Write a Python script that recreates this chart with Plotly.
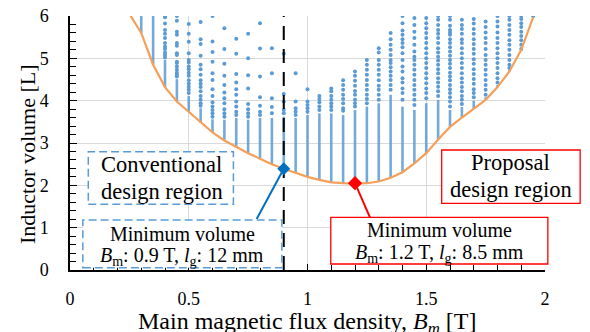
import plotly.graph_objects as go

# ---------------- data ----------------
cols = [0.3, 0.35, 0.4, 0.45, 0.5, 0.55, 0.6, 0.65, 0.7, 0.75, 0.8, 0.85, 0.9, 0.95,
        1.0, 1.05, 1.1, 1.15, 1.2, 1.25, 1.3, 1.35, 1.4, 1.45, 1.5, 1.55, 1.6, 1.65,
        1.7, 1.75, 1.8, 1.85, 1.9, 1.95]

# dense (quasi-continuous) part of each column of design points
dense_lo = [5.6, 4.85, 4.32, 3.98, 3.74, 3.48, 3.25, 3.06, 2.9, 2.76, 2.63, 2.5, 2.39, 2.29,
            2.2, 2.13, 2.07, 2.05, 2.04, 2.05, 2.09, 2.18, 2.31, 2.52, 2.76, 3.08, 3.38, 3.6,
            3.8, 4.02, 4.32, 4.69, 5.2, 5.97]
dense_hi = [6.0, 6.0, 4.96, 4.51, 4.11, 3.82, 3.56, 3.55, 3.59, 3.55, 3.59, 3.59, 3.62, 3.59,
            3.66, 3.7, 3.7, 3.66, 3.78, 3.86, 3.94, 4.14, 3.86, 3.78, 3.94, 4.02, 3.78, 3.85,
            4.0, 4.08, 4.37, 4.73, 5.2, 6.0]

# individual (sparse) design points above the dense part, one list per column
sparse_vals = [
    [],
    [],
    [5.97, 5.82, 5.67, 5.58, 5.48, 5.36, 5.28, 5.22, 5.14, 5.08, 5.02],
    [6.0, 5.89, 5.63, 5.56, 5.36, 5.3, 5.12, 5.08, 4.92, 4.89, 4.81, 4.73, 4.66, 4.61, 4.57],
    [5.81, 5.58, 5.39, 5.12, 4.96, 4.9, 4.81, 4.74, 4.66, 4.59, 4.48, 4.4, 4.33, 4.26, 4.18],
    [5.86, 5.45, 5.34, 5.06, 4.85, 4.74, 4.61, 4.48, 4.4, 4.32, 4.22, 4.11, 4.02, 3.94, 3.88],
    [6.0, 5.4, 5.15, 4.92, 4.65, 4.49, 4.27, 4.11, 3.96, 3.86, 3.78, 3.7, 3.62],
    [5.71, 5.22, 4.87, 4.59, 4.37, 4.19, 4.06, 3.94, 3.8, 3.7, 3.62],
    [5.46, 5.11, 4.63, 4.43, 4.27, 4.14, 3.98, 3.86, 3.74, 3.66],
    [5.58, 5.0, 4.6, 4.29, 3.92, 3.8, 3.7, 3.62],
    [5.83, 5.23, 4.57, 4.08, 3.88, 3.74, 3.66],
    [5.24, 4.65, 4.06, 3.85, 3.7],
    [5.11, 4.16, 3.98, 3.78, 3.7],
    [4.65, 3.98, 3.82, 3.74, 3.66],
    [4.27, 3.98, 3.9, 3.82, 3.74],
    [4.11, 4.04, 3.96, 3.86, 3.78],
    [4.29, 4.22, 4.11, 4.02, 3.94, 3.86, 3.78],
    [4.48, 4.37, 4.26, 4.14, 4.04, 3.94, 3.82, 3.76],
    [4.69, 4.59, 4.47, 4.35, 4.23, 4.14, 4.02, 3.94, 3.86],
    [4.96, 4.85, 4.73, 4.61, 4.49, 4.37, 4.26, 4.14, 4.04, 3.94],
    [5.24, 5.14, 4.96, 4.85, 4.73, 4.61, 4.48, 4.35, 4.26, 4.14, 4.02],
    [5.6, 5.45, 5.32, 5.2, 5.08, 4.96, 4.89, 4.79, 4.69, 4.59, 4.49, 4.37, 4.26],
    [6.0, 5.83, 5.66, 5.56, 5.45, 5.36, 5.26, 5.12, 4.96, 4.81, 4.69, 4.53, 4.43, 4.29, 4.18, 4.02],
    [5.95, 5.79, 5.63, 5.48, 5.32, 5.16, 5.04, 4.96, 4.85, 4.73, 4.61, 4.49, 4.37, 4.26, 4.14, 4.02, 3.9],
    [5.95, 5.83, 5.71, 5.6, 5.48, 5.36, 5.24, 5.12, 5.0, 4.89, 4.77, 4.65, 4.53, 4.41, 4.29, 4.18, 4.06],
    [6.0, 5.91, 5.79, 5.67, 5.58, 5.48, 5.36, 5.24, 5.14, 5.04, 4.95, 4.85, 4.74, 4.65, 4.53, 4.43, 4.33, 4.22, 4.11],
    [6.0, 5.91, 5.77, 5.67, 5.61, 5.56, 5.45, 5.36, 5.26, 5.16, 5.06, 4.96, 4.87, 4.77, 4.66, 4.57, 4.48, 4.37, 4.27, 4.18, 4.08, 3.98, 3.86],
    [5.91, 5.79, 5.69, 5.58, 5.45, 5.36, 5.24, 5.12, 5.0, 4.89, 4.77, 4.65, 4.53, 4.43, 4.32, 4.22, 4.11, 4.02, 3.92],
    [5.93, 5.82, 5.69, 5.58, 5.45, 5.34, 5.22, 5.11, 4.98, 4.87, 4.74, 4.63, 4.51, 4.4, 4.27, 4.18, 4.08],
    [5.87, 5.74, 5.61, 5.48, 5.36, 5.22, 5.08, 4.96, 4.85, 4.73, 4.61, 4.49, 4.37, 4.26, 4.14],
    [6.0, 5.87, 5.75, 5.61, 5.48, 5.36, 5.24, 5.12, 5.0, 4.89, 4.77, 4.65, 4.53, 4.43],
    [6.0, 5.91, 5.79, 5.67, 5.56, 5.43, 5.32, 5.2, 5.08, 4.96, 4.85, 4.77],
    [6.0, 5.93, 5.83, 5.74, 5.63, 5.53, 5.43, 5.32, 5.22],
    [6.0],
]

# minimum-volume envelope
env_x = [0.25, 0.3, 0.35, 0.4, 0.45, 0.5, 0.55, 0.6, 0.65, 0.7, 0.75, 0.8, 0.85, 0.9, 0.95,
         1.0, 1.05, 1.1, 1.15, 1.2, 1.25, 1.3, 1.35, 1.4, 1.45, 1.5, 1.55, 1.6, 1.65,
         1.7, 1.75, 1.8, 1.85, 1.9, 1.95]
env_y = [6.05, 5.6, 4.85, 4.32, 3.98, 3.74, 3.48, 3.25, 3.06, 2.9, 2.76, 2.63, 2.5, 2.39, 2.29,
         2.2, 2.13, 2.07, 2.05, 2.04, 2.05, 2.09, 2.18, 2.31, 2.52, 2.76, 3.08, 3.38, 3.6,
         3.8, 4.02, 4.32, 4.69, 5.2, 5.97]

conv_min = (0.9, 2.39)   # conventional design minimum
prop_min = (1.2, 2.05)   # proposal design minimum
conv_limit_x = 0.9

x_ticks = [0, 0.5, 1, 1.5, 2]
x_tick_text = ["0", "0.5", "1", "1.5", "2"]
y_ticks = [0, 1, 2, 3, 4, 5, 6]

# ---------------- figure ----------------
FONT = "Liberation Serif, Times New Roman, serif"
DOT = "#5B9BD5"

seg_x, seg_y = [], []
for c, lo, hi in zip(cols, dense_lo, dense_hi):
    seg_x += [c, c, None]
    seg_y += [lo, hi, None]

dot_x, dot_y = [], []
for c, vals in zip(cols, sparse_vals):
    for v in vals:
        dot_x.append(c)
        dot_y.append(v)

fig = go.Figure()
fig.add_trace(go.Scatter(x=seg_x, y=seg_y, mode="lines",
                         line=dict(color="rgba(91,155,213,0.85)", width=2.6), hoverinfo="skip"))
fig.add_trace(go.Scatter(x=dot_x, y=dot_y, mode="markers",
                         marker=dict(color=DOT, size=4, line=dict(width=0))))
fig.add_trace(go.Scatter(x=env_x, y=env_y, mode="lines",
                         line=dict(color="#F4A05A", width=2.2)))
fig.add_trace(go.Scatter(x=[conv_limit_x, conv_limit_x], y=[0, 6], mode="lines",
                         line=dict(color="black", width=2, dash="14px,9px")))
fig.add_trace(go.Scatter(x=[conv_min[0]], y=[conv_min[1]], mode="markers",
                         marker=dict(symbol="diamond", color="#0070C0", size=10)))
fig.add_trace(go.Scatter(x=[prop_min[0]], y=[prop_min[1]], mode="markers",
                         marker=dict(symbol="diamond", color="#FF0000", size=11)))

shapes = [
    # pointer lines
    dict(type="line", xref="x", yref="y", x0=0.786, y0=1.205, x1=conv_min[0], y1=conv_min[1],
         line=dict(color="#0070C0", width=2), layer="above"),
    dict(type="line", xref="x", yref="y", x0=1.263, y0=1.245, x1=prop_min[0], y1=prop_min[1],
         line=dict(color="#FF0000", width=2), layer="above"),
    # boxes
    dict(type="rect", xref="paper", yref="paper", x0=0.0385, x1=0.344, y0=0.259, y1=0.466,
         line=dict(color=DOT, width=1.5, dash="8px,4px"), fillcolor="white", layer="above"),
    dict(type="rect", xref="paper", yref="paper", x0=0.027, x1=0.446, y0=0.009, y1=0.197,
         line=dict(color=DOT, width=1.5, dash="8px,4px"), fillcolor="white", layer="above"),
    dict(type="rect", xref="paper", yref="paper", x0=0.7825, x1=1.074, y0=0.2626, y1=0.4724,
         line=dict(color="#FF0000", width=1.3), fillcolor="white", layer="above"),
    dict(type="rect", xref="paper", yref="paper", x0=0.549, x1=1.006, y0=0.0236, y1=0.2075,
         line=dict(color="#FF0000", width=1.3), fillcolor="white", layer="above"),
]

ann = dict(showarrow=False, xanchor="center", yanchor="middle", align="center",
           xref="paper", yref="paper")
BIG = dict(family=FONT, size=22.5, color="black")
MID = dict(family=FONT, size=20, color="black")
annotations = [
    dict(ann, x=0.1933, y=0.4134, text="Conventional", font=BIG),
    dict(ann, x=0.1933, y=0.311, text="design region", font=BIG),
    dict(ann, x=0.2358, y=0.1417, text="Minimum volume", font=MID),
    dict(ann, x=0.2358, y=0.0512,
         text="<i>B</i><sub>m</sub>: 0.9 T, <i>l</i><sub>g</sub>: 12 mm", font=MID),
    dict(ann, x=0.9284, y=0.4213, text="Proposal", font=BIG),
    dict(ann, x=0.9284, y=0.315, text="design region", font=BIG),
    dict(ann, x=0.7789, y=0.1575, text="Minimum volume", font=MID),
    dict(ann, x=0.7789, y=0.0669,
         text="<i>B</i><sub>m</sub>: 1.2 T, <i>l</i><sub>g</sub>: 8.5 mm", font=MID),
    # axis titles
    dict(ann, x=0.50, y=-0.208, text="Main magnetic flux density, <i>B<sub>m</sub></i> [T]",
         font=dict(family=FONT, size=24, color="black")),
    dict(ann, x=-0.088, y=0.457, text="Inductor volume [L]", textangle=-90,
         font=dict(family=FONT, size=22, color="black")),
]

fig.update_layout(
    width=590, height=332,
    margin=dict(l=70, r=45, t=16, b=62, autoexpand=False),
    plot_bgcolor="white", paper_bgcolor="white",
    showlegend=False,
    font=dict(family=FONT, size=18, color="black"),
    shapes=shapes, annotations=annotations,
    xaxis=dict(range=[0, 2], tickvals=x_ticks, ticktext=x_tick_text, automargin=False,
               showline=True, linecolor="black", linewidth=1.5,
               ticks="inside", ticklen=6, tickcolor="black", tickwidth=1,
               showgrid=True, gridcolor="#D9D9D9", gridwidth=1, zeroline=False,
               minor=dict(dtick=0.1, ticks="inside", ticklen=5, tickcolor="black", showgrid=False),
               ticklabelstandoff=12,
               tickfont=dict(family=FONT, size=18, color="black")),
    yaxis=dict(range=[0, 6], tickvals=y_ticks, automargin=False,
               showline=True, linecolor="black", linewidth=1.5,
               ticks="inside", ticklen=7, tickcolor="black", tickwidth=1,
               showgrid=True, gridcolor="#D9D9D9", gridwidth=1, zeroline=False,
               minor=dict(dtick=0.2, ticks="inside", ticklen=6, tickcolor="black", showgrid=False),
               ticklabelstandoff=16,
               tickfont=dict(family=FONT, size=18, color="black")),
)

fig.write_html("out.html", config={"displayModeBar": False},
               post_script="document.body.style.margin='0';document.body.style.overflow='hidden';")
